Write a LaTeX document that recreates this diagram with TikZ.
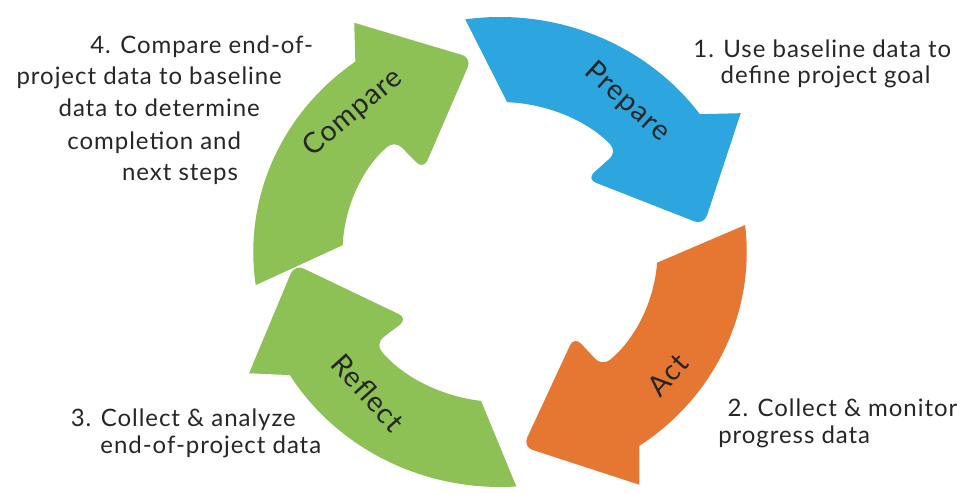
\documentclass[tikz,border=0pt]{standalone}
\usepackage{fontspec}
\setmainfont{Lato}[LetterSpace=4]
\definecolor{prepblue}{HTML}{2DA5DE}
\definecolor{actorange}{HTML}{E67733}
\definecolor{leafgreen}{HTML}{8DC055}
\definecolor{inkgray}{HTML}{262626}
% one curved arrow of the cycle, drawn at 0 deg and turned
\newcommand{\cyclearrow}[2]{%
  \begin{scope}[rotate=#1]
    \fill[#2] (96.6:235) arc[start angle=96.6,end angle=34.4,radius=235]
      -- (29.7:268) [rounded corners=10] -- (6.4:196) -- (40:110) -- (40.4:150)
      [sharp corners] arc[start angle=40.4,end angle=85.9,radius=150] -- cycle;
  \end{scope}}

\begin{document}
\begin{tikzpicture}[x=1pt,y=1pt,
  note/.style={font=\fontsize{24}{27}\selectfont,text=inkgray,anchor=base,inner sep=0pt},
  stage/.style={font=\fontsize{28.5}{32}\selectfont,text=inkgray,inner sep=0pt}]
\useasboundingbox (0,0) rectangle (966,494);
\begin{scope}[shift={(500,242)},xscale=1.05]
  \cyclearrow{1.5}{prepblue}
  \cyclearrow{-90}{actorange}
  \cyclearrow{-182.8}{leafgreen}
  \cyclearrow{91.5}{leafgreen}
\end{scope}
% stage names on the arrows
\node[stage,rotate=-42] (prepare) at (627,392) {Prepare};
\node[stage,rotate=48] (act) at (668,119) {Act};
\node[stage,rotate=-48] (reflect) at (368,101) {Reflect};
\node[stage,rotate=40] (compare) at (353,381) {Compare};
% notes round the cycle
\foreach \n/\x/\y/\t in {a1/822.3/436.7/1. Use baseline data to,a2/825.5/410.7/define project goal,
  b1/842.5/77.3/2. Collect \& monitor,b2/794.2/50.7/progress data,
  c1/183.3/67.3/3. Collect \& analyze,c2/210.8/40.7/end-of-project data,
  d1/201.7/440.7/4. Compare end-of-,d2/149.2/409/project data to baseline,d3/159.2/377.3/data to determine,
  d4/154.2/344/completion and,d5/180/313.3/next steps}
  \node[note] (\n) at (\x,\y) {\t};
\end{tikzpicture}
\end{document}
